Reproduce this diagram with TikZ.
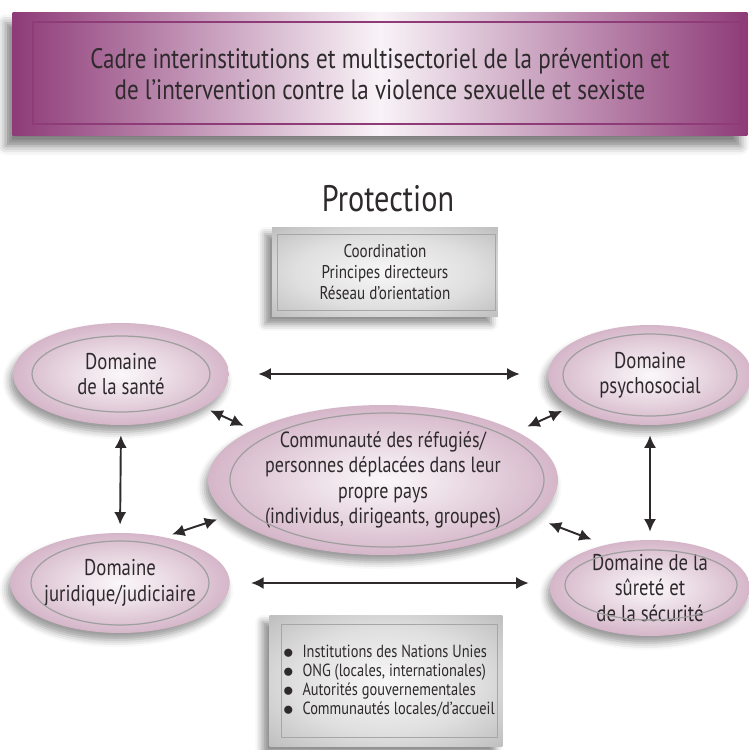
\documentclass[tikz,border=0pt]{standalone}
\usepackage{fontspec}
\setmainfont[FakeStretch=0.82]{PT Sans}
\usepackage{tikz}
\usetikzlibrary{shapes.geometric,arrows.meta,shadows.blur}

\definecolor{plum}{HTML}{8E3B78}
\definecolor{mauve}{HTML}{A8688F}
\definecolor{ink}{HTML}{2E2A2C}
\pgfdeclareradialshading{ellshade}{\pgfpoint{0bp}{0bp}}{color(0bp)=(white!95!mauve); color(8bp)=(white!82!mauve); color(26bp)=(white!50!mauve); color(50bp)=(mauve)}
\pgfdeclareradialshading{boxshade}{\pgfpoint{0bp}{0bp}}{color(0bp)=(gray!6); color(20bp)=(gray!25); color(50bp)=(gray!75)}
\newcommand{\puce}{\smash{\raisebox{-0.5pt}{\fontsize{13}{10}\selectfont$\bullet$}}\hspace{5pt}}

\begin{document}
\begin{tikzpicture}[x=0.02cm,y=-0.02cm,
  every node/.style={text=ink},
  banner/.style={rectangle, minimum width=14.7cm, minimum height=2.46cm,
    left color=plum, right color=plum, middle color=white!94!plum,
    blur shadow={shadow xshift=-4pt, shadow yshift=-6pt, shadow blur radius=5pt, shadow opacity=50}},
  greybox/.style={rectangle, shading=boxshade,
    blur shadow={shadow xshift=-4pt, shadow yshift=-4pt, shadow blur radius=4pt, shadow opacity=45}},
  dom/.style={ellipse, shading=ellshade, align=center, inner sep=1pt, font=\fontsize{13}{14.5}\selectfont,
    blur shadow={shadow xshift=-2pt, shadow yshift=-4pt, shadow blur radius=4pt, shadow opacity=40}},
  rim/.style={draw=gray!75, line width=0.7pt},
  dbl/.style={{Latex[length=2.5mm,width=2.4mm]}-{Latex[length=2.5mm,width=2.4mm]}, line width=1.1pt, draw=ink}]
\useasboundingbox (0,0) rectangle (748,750);

% title
\node[banner, align=center, font=\fontsize{16}{17.5}\selectfont, text depth=-2pt] (titre) at (380,74)
  {Cadre interinstitutions et multisectoriel de la prévention et\\
   de l’intervention contre la violence sexuelle et sexiste};
\draw[plum, line width=0.9pt] ([shift={(21,10)}]titre.north west) rectangle ([shift={(-7,-12)}]titre.south east);

\node[font=\fontsize{21}{24}\selectfont] (prot) at (388,199) {Protection};

% coordination box
\node[greybox, minimum width=4.52cm, minimum height=1.8cm, align=center,
  font=\fontsize{10.5}{12}\selectfont] (coord) at (385,272)
  {Coordination\\ Principes directeurs\\ Réseau d’orientation};
\draw[gray!70, line width=0.6pt] ([shift={(6,8)}]coord.north west) rectangle ([shift={(-3,-7)}]coord.south east);

% domains
\node[dom, minimum width=4.32cm, minimum height=2.04cm] (sante) at (121,374) {Domaine\\ de la santé};
\draw[rim] (sante.center) ellipse [x radius=89, y radius=38];

\node[dom, minimum width=4.08cm, minimum height=2cm] (psy) at (650,375) {Domaine\\ psychosocial};
\draw[rim] (psy.center) ellipse [x radius=87, y radius=41];

\node[dom, minimum width=7cm, minimum height=3cm, font=\fontsize{12.5}{14.5}\selectfont] (centre) at (383,480)
  {Communauté des réfugiés/\\ personnes déplacées dans leur\\ propre pays\\ (individus, dirigeants, groupes)};
\draw[rim] (387,480) ellipse [x radius=157, y radius=67];

\node[dom, minimum width=4.28cm, minimum height=2cm] (jur) at (120,583) {Domaine\\ juridique/judiciaire};
\draw[rim] (jur.center) ellipse [x radius=89, y radius=42];

\node[dom, minimum width=4cm, minimum height=1.92cm, inner ysep=-5pt] (sur) at (650,588) {Domaine de la\\ sûreté et\\ de la sécurité};
\draw[rim] (651,585) ellipse [x radius=86, y radius=35];

% actors box
\node[greybox, minimum width=4.66cm, minimum height=2.64cm] (acteurs) at (386,681) {};
\draw[gray!70, line width=0.6pt] ([shift={(12,10)}]acteurs.north west) rectangle ([shift={(-5,-10)}]acteurs.south east);
\node[anchor=west, align=left, font=\fontsize{10}{10.8}\selectfont] (liste) at (277,681)
  {\puce Institutions des Nations Unies\\
   \puce ONG (locales, internationales)\\
   \puce Autorités gouvernementales\\
   \puce Communautés locales/d’accueil};

% links
\draw[dbl, shorten <=5.8mm, shorten >=5.6mm] (sante.east) -- (sante.east -| psy.west);
\draw[dbl, shorten <=4.2mm, shorten >=4.2mm] (jur.east) -- (jur.east -| sur.west);
\draw[dbl, shorten <=2mm, shorten >=1.6mm] (sante.south) -- (jur.north);
\draw[dbl, shorten <=2mm, shorten >=1.6mm] (psy.south) -- (psy.south |- sur.north);
\draw[dbl, shorten <=1.5mm, shorten >=1.9mm] (sante.338) -- (centre.159);
\draw[dbl, shorten <=2.3mm, shorten >=1.9mm] (centre.20) -- (psy.202);
\draw[dbl, shorten <=1.6mm, shorten >=2.4mm] (jur.46) -- (centre.193);
\draw[dbl, shorten <=3mm, shorten >=2.9mm] (centre.346) -- (sur.136);
\end{tikzpicture}
\end{document}
